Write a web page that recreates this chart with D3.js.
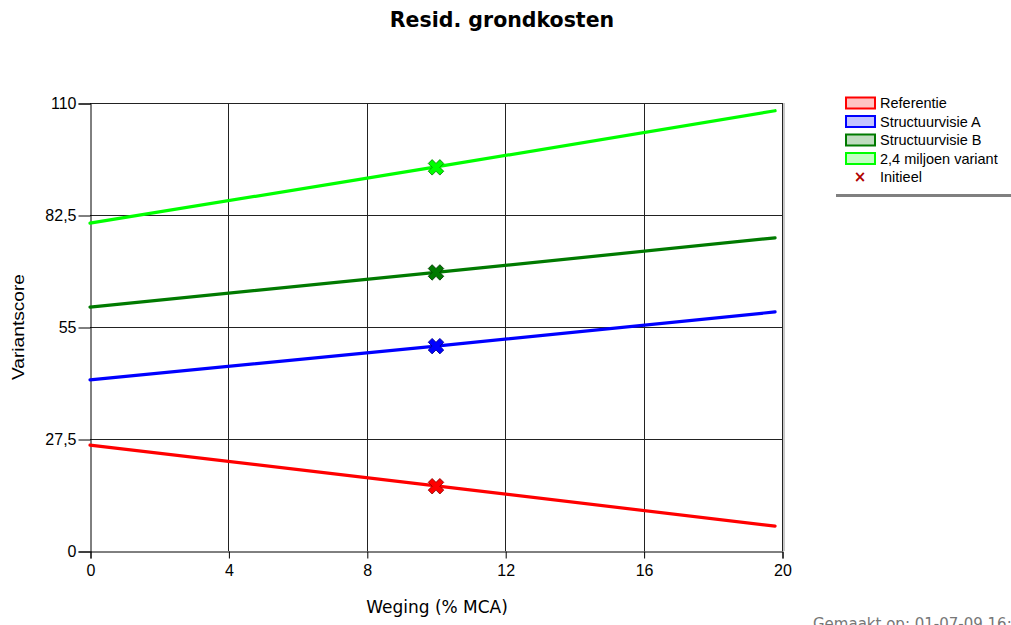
<!DOCTYPE html>
<html><head><meta charset="utf-8">
<script src="https://cdn.jsdelivr.net/npm/d3@7"></script>
<style>
body{margin:0;background:#fff;}
svg{display:block;}
</style></head>
<body>
<svg id="chart" width="1011" height="625"></svg>
<script>
// Data
const seriesNames = ["Referentie", "Structuurvisie A", "Structuurvisie B", "2,4 miljoen variant"];
const weights = [0, 10, 19.8];
const referentie = [26.0, 16.0, 6.1];
const structuurvisieA = [42.0, 50.3, 58.7];
const structuurvisieB = [59.9, 68.4, 76.9];
const miljoenVariant = [80.5, 94.3, 108.1];
const initieelWeight = 10;
const initieelValues = [15.9, 50.3, 68.4, 94.2];
const xTicks = [0, 4, 8, 12, 16, 20];
const yTicks = [0, 27.5, 55, 82.5, 110];
const lineColors = ["#ff0000", "#0000ff", "#007a00", "#00ff00"];
const fillColors = ["#ffc4c4", "#c4c4ff", "#c0dcc0", "#c4ffc4"];
const markerStroke = ["#8b0000", "#00008b", "#003800", "#008800"];

const seriesValues = [referentie, structuurvisieA, structuurvisieB, miljoenVariant];

const svg = d3.select("#chart");
const m = {left: 90, right: 782, top: 103, bottom: 551};
const x = d3.scaleLinear().domain([0, 20]).range([m.left, m.right]);
const y = d3.scaleLinear().domain([0, 110]).range([m.bottom, m.top]);

// Title
svg.append("text").attr("x", 502).attr("y", 27).attr("text-anchor", "middle")
  .attr("font-family", "DejaVu Sans").attr("font-weight", "bold").attr("font-size", 20.5)
  .attr("fill", "#000").text("Resid. grondkosten");

// Right shadow
svg.append("rect").attr("x", m.right + 1).attr("y", m.top).attr("width", 2).attr("height", m.bottom - m.top)
  .attr("fill", "#c8c8c8");

// Grid
const g = svg.append("g");
g.selectAll("line.h").data(yTicks.filter(d => d > 0)).join("line")
  .attr("x1", m.left).attr("x2", m.right).attr("y1", d => Math.round(y(d)) + 0.5).attr("y2", d => Math.round(y(d)) + 0.5)
  .attr("stroke", "#222").attr("stroke-width", 1);
g.selectAll("line.v").data(xTicks.filter(d => d > 0)).join("line")
  .attr("y1", m.top).attr("y2", m.bottom).attr("x1", d => Math.round(x(d)) + 0.5).attr("x2", d => Math.round(x(d)) + 0.5)
  .attr("stroke", "#222").attr("stroke-width", 1);

// Axes
const yAxis = d3.axisLeft(y).tickValues(yTicks).tickFormat(d => String(d).replace(".", ",")).tickSize(12).tickPadding(2);
const yg = svg.append("g").attr("transform", `translate(${m.left + 0.5},0.5)`).call(yAxis);
yg.select(".domain").attr("stroke", "#000");
yg.selectAll(".tick line").attr("stroke", "#000");
yg.selectAll(".tick text").attr("font-family", "Liberation Sans, Arial").attr("font-size", 16).attr("fill", "#000").attr("dy", "0.32em");

const xAxis = d3.axisBottom(x).tickValues(xTicks).tickSize(7).tickPadding(6);
const xg = svg.append("g").attr("transform", `translate(0.5,${m.bottom + 0.5})`).call(xAxis);
xg.select(".domain").attr("stroke", "#000");
xg.selectAll(".tick line").attr("stroke", "#000");
xg.selectAll(".tick text").attr("font-family", "Liberation Sans, Arial").attr("font-size", 16).attr("fill", "#000");

// Axis titles
svg.append("text").attr("x", 437).attr("y", 613).attr("text-anchor", "middle")
  .attr("font-family", "DejaVu Sans").attr("font-size", 17).attr("fill", "#000").text("Weging (% MCA)");
svg.append("text").attr("transform", "translate(24,327) rotate(-90)").attr("text-anchor", "middle")
  .attr("font-family", "Liberation Sans, Arial").attr("font-size", 16).attr("textLength", 106)
  .attr("lengthAdjust", "spacingAndGlyphs").attr("fill", "#000").text("Variantscore");

// Lines
const line = d3.line().x((d, i) => x(weights[i])).y(d => y(d));
seriesValues.forEach((vals, k) => {
  svg.append("path").datum(vals).attr("d", line).attr("fill", "none")
    .attr("stroke", lineColors[k]).attr("stroke-width", 3.2).attr("stroke-linecap", "round");
});

// Markers (Initieel)
const xSym = d3.symbol().type(d3.symbolCross).size(150);
initieelValues.forEach((v, k) => {
  svg.append("path").attr("d", xSym())
    .attr("transform", `translate(${x(initieelWeight)},${y(v)}) rotate(45)`)
    .attr("fill", lineColors[k]).attr("stroke", markerStroke[k]).attr("stroke-width", 0.8);
});

// Legend
const lg = svg.append("g");
const rowY = [103, 121.5, 140, 158.5];
seriesNames.forEach((name, k) => {
  lg.append("rect").attr("x", 846).attr("y", rowY[k] - 5.5).attr("width", 29).attr("height", 11)
    .attr("fill", fillColors[k]).attr("stroke", lineColors[k]).attr("stroke-width", 2);
  lg.append("text").attr("x", 880).attr("y", rowY[k] + 5).attr("font-family", "Liberation Sans, Arial")
    .attr("font-size", 14.5).attr("fill", "#000").text(name);
});
lg.append("text").attr("x", 860).attr("y", 177).attr("text-anchor", "middle").attr("dominant-baseline", "middle")
  .attr("font-family", "DejaVu Sans").attr("font-weight", "bold").attr("font-size", 15).attr("fill", "#b00000").text("×");
lg.append("text").attr("x", 880).attr("y", 182).attr("font-family", "Liberation Sans, Arial")
  .attr("font-size", 14.5).attr("fill", "#000").text("Initieel");
lg.append("rect").attr("x", 836).attr("y", 194).attr("width", 175).attr("height", 3).attr("fill", "#808080");

// Footer
svg.append("text").attr("x", 813).attr("y", 629).attr("font-family", "DejaVu Sans").attr("font-size", 15)
  .attr("fill", "#777").text("Gemaakt op: 01-07-09 16:45");
</script>
</body></html>
